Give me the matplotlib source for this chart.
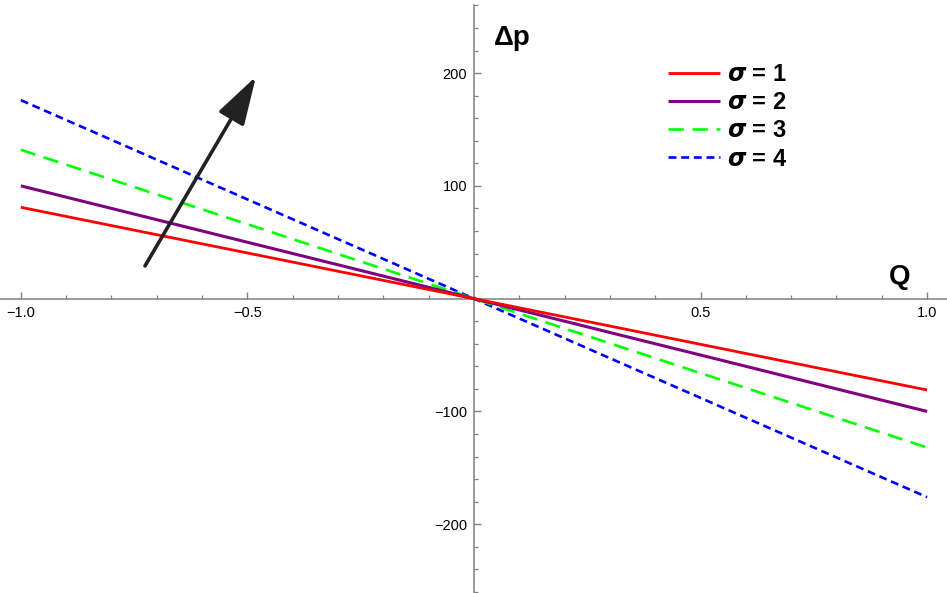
import matplotlib
matplotlib.use("Agg")
import matplotlib.pyplot as plt
from matplotlib.ticker import MultipleLocator, FixedLocator

# endpoints of each straight line
q_values = [-1.0, 1.0]
dp_sigma1 = [81.0, -81.0]
dp_sigma2 = [100.0, -100.0]
dp_sigma3 = [132.0, -132.0]
dp_sigma4 = [176.0, -176.0]
sigma_labels = ["1", "2", "3", "4"]

x_ticks = [-1.0, -0.5, 0.5, 1.0]
x_tick_labels = ["\u22121.0", "\u22120.5", "0.5", "1.0"]
y_ticks = [-200, -100, 100, 200]
y_tick_labels = ["\u2212200", "\u2212100", "100", "200"]

# arrow showing increasing sigma
arrow_start = (-0.726, 29.0)
arrow_end = (-0.481, 197.0)

plt.rcParams["font.family"] = ["Liberation Sans", "DejaVu Sans"]

fig = plt.figure(figsize=(9.47, 5.93), dpi=100)
ax = fig.add_axes([0, 0, 1, 1])
ax.set_xlim(-1.046, 1.044)
ax.set_ylim(-261, 264.8)

styles = [
    dict(color="#ff0000", linewidth=2.0, zorder=6),
    dict(color="#800080", linewidth=2.2, zorder=5),
    dict(color="#00ff00", linewidth=1.9, dashes=(5.8, 3.3), zorder=4),
    dict(color="#0000ff", linewidth=1.9, dashes=(3.0, 1.8), zorder=3),
]
series = [dp_sigma1, dp_sigma2, dp_sigma3, dp_sigma4]
for values, label, style in zip(series, sigma_labels, styles):
    ax.plot(q_values, values, label=r"$\mathbfit{\sigma}$ = " + label,
            solid_capstyle="butt", dash_capstyle="butt", **style)

for name in ("top", "right"):
    ax.spines[name].set_visible(False)
for name in ("left", "bottom"):
    ax.spines[name].set_position("zero")
    ax.spines[name].set_color("#808080")
    ax.spines[name].set_linewidth(1.1)
ax.spines["left"].set_bounds(-262, 260)

ax.xaxis.set_major_locator(FixedLocator(x_ticks))
ax.set_xticklabels(x_tick_labels)
ax.xaxis.set_minor_locator(MultipleLocator(0.1))
ax.yaxis.set_major_locator(FixedLocator(y_ticks))
ax.set_yticklabels(y_tick_labels)
ax.yaxis.set_minor_locator(MultipleLocator(20))

ax.tick_params(which="both", direction="in", color="#808080", labelsize=10.5,
               labelcolor="black")
ax.tick_params(which="major", length=5, width=1.0, pad=5)
ax.tick_params(which="minor", length=3, width=0.9)

ax.text(0.940, 19, "Q", fontsize=20, fontweight="bold", ha="center", va="center")
ax.text(0.084, 231, "\u0394p", fontsize=20, fontweight="bold", ha="center", va="center")

ax.annotate("", xy=arrow_end, xytext=arrow_start,
            arrowprops=dict(arrowstyle="-|>,head_length=3.0,head_width=0.9",
                            mutation_scale=10, color="#222222", linewidth=2.6,
                            shrinkA=0, shrinkB=0),
            zorder=8)

legend = ax.legend(loc="upper left", bbox_to_anchor=(668 / 947, 1 - 63 / 593),
                   frameon=False, borderpad=0, borderaxespad=0,
                   handlelength=2.2, handletextpad=0.3, labelspacing=0.22,
                   prop={"size": 17, "weight": "bold"})

fig.savefig("out.png", dpi=100)
